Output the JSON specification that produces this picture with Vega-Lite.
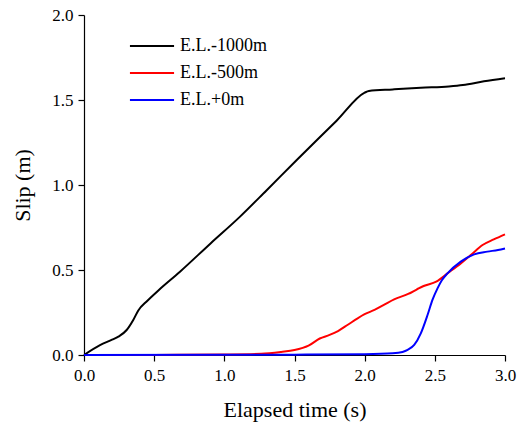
{
  "$schema": "https://vega.github.io/schema/vega-lite/v6.json",
  "width": 421,
  "height": 340,
  "autosize": {"type": "none"},
  "padding": {"left": 84, "top": 15, "right": 14, "bottom": 71},
  "background": "white",
  "config": {
    "view": {"stroke": null},
    "font": "Times New Roman",
    "axis": {
      "domainColor": "black",
      "domainWidth": 1.2,
      "labelColor": "black",
      "titleColor": "black",
      "labelFont": "Times New Roman",
      "titleFont": "Times New Roman",
      "labelFontSize": 17,
      "titleFontSize": 22,
      "titleFontWeight": "normal",
      "grid": false,
      "ticks": true,
      "tickSize": 6,
      "tickWidth": 1.2,
      "tickColor": "black"
    }
  },
  "data": {
    "values": [
      {"t": 0, "slip": 0, "s": "E.L.-1000m"},
      {"t": 0.114, "slip": 0.058, "s": "E.L.-1000m"},
      {"t": 0.2, "slip": 0.09, "s": "E.L.-1000m"},
      {"t": 0.245, "slip": 0.108, "s": "E.L.-1000m"},
      {"t": 0.304, "slip": 0.147, "s": "E.L.-1000m"},
      {"t": 0.351, "slip": 0.206, "s": "E.L.-1000m"},
      {"t": 0.387, "slip": 0.262, "s": "E.L.-1000m"},
      {"t": 0.45, "slip": 0.318, "s": "E.L.-1000m"},
      {"t": 0.53, "slip": 0.38, "s": "E.L.-1000m"},
      {"t": 0.684, "slip": 0.49, "s": "E.L.-1000m"},
      {"t": 0.9, "slip": 0.655, "s": "E.L.-1000m"},
      {"t": 1.112, "slip": 0.814, "s": "E.L.-1000m"},
      {"t": 1.3, "slip": 0.968, "s": "E.L.-1000m"},
      {"t": 1.516, "slip": 1.147, "s": "E.L.-1000m"},
      {"t": 1.8, "slip": 1.378, "s": "E.L.-1000m"},
      {"t": 2.0, "slip": 1.543, "s": "E.L.-1000m"},
      {"t": 2.03, "slip": 1.553, "s": "E.L.-1000m"},
      {"t": 2.2, "slip": 1.562, "s": "E.L.-1000m"},
      {"t": 2.4, "slip": 1.572, "s": "E.L.-1000m"},
      {"t": 2.6, "slip": 1.58, "s": "E.L.-1000m"},
      {"t": 2.7, "slip": 1.588, "s": "E.L.-1000m"},
      {"t": 2.85, "slip": 1.61, "s": "E.L.-1000m"},
      {"t": 3.0, "slip": 1.628, "s": "E.L.-1000m"},
      {"t": 0, "slip": 0, "s": "E.L.-500m"},
      {"t": 0.5, "slip": 0.0005, "s": "E.L.-500m"},
      {"t": 1.0, "slip": 0.003, "s": "E.L.-500m"},
      {"t": 1.263, "slip": 0.007, "s": "E.L.-500m"},
      {"t": 1.405, "slip": 0.018, "s": "E.L.-500m"},
      {"t": 1.5, "slip": 0.029, "s": "E.L.-500m"},
      {"t": 1.6, "slip": 0.055, "s": "E.L.-500m"},
      {"t": 1.68, "slip": 0.097, "s": "E.L.-500m"},
      {"t": 1.75, "slip": 0.118, "s": "E.L.-500m"},
      {"t": 1.81, "slip": 0.141, "s": "E.L.-500m"},
      {"t": 1.88, "slip": 0.178, "s": "E.L.-500m"},
      {"t": 1.95, "slip": 0.216, "s": "E.L.-500m"},
      {"t": 2.0, "slip": 0.24, "s": "E.L.-500m"},
      {"t": 2.07, "slip": 0.265, "s": "E.L.-500m"},
      {"t": 2.14, "slip": 0.296, "s": "E.L.-500m"},
      {"t": 2.21, "slip": 0.327, "s": "E.L.-500m"},
      {"t": 2.31, "slip": 0.359, "s": "E.L.-500m"},
      {"t": 2.37, "slip": 0.385, "s": "E.L.-500m"},
      {"t": 2.42, "slip": 0.406, "s": "E.L.-500m"},
      {"t": 2.51, "slip": 0.431, "s": "E.L.-500m"},
      {"t": 2.59, "slip": 0.48, "s": "E.L.-500m"},
      {"t": 2.685, "slip": 0.539, "s": "E.L.-500m"},
      {"t": 2.756, "slip": 0.588, "s": "E.L.-500m"},
      {"t": 2.84, "slip": 0.647, "s": "E.L.-500m"},
      {"t": 2.92, "slip": 0.68, "s": "E.L.-500m"},
      {"t": 3.0, "slip": 0.71, "s": "E.L.-500m"},
      {"t": 0, "slip": 0, "s": "E.L.+0m"},
      {"t": 1.0, "slip": 0.001, "s": "E.L.+0m"},
      {"t": 1.5, "slip": 0.002, "s": "E.L.+0m"},
      {"t": 2.0, "slip": 0.005, "s": "E.L.+0m"},
      {"t": 2.2, "slip": 0.01, "s": "E.L.+0m"},
      {"t": 2.27, "slip": 0.018, "s": "E.L.+0m"},
      {"t": 2.306, "slip": 0.03, "s": "E.L.+0m"},
      {"t": 2.353, "slip": 0.059, "s": "E.L.+0m"},
      {"t": 2.4, "slip": 0.127, "s": "E.L.+0m"},
      {"t": 2.448, "slip": 0.235, "s": "E.L.+0m"},
      {"t": 2.483, "slip": 0.324, "s": "E.L.+0m"},
      {"t": 2.519, "slip": 0.392, "s": "E.L.+0m"},
      {"t": 2.55, "slip": 0.44, "s": "E.L.+0m"},
      {"t": 2.59, "slip": 0.48, "s": "E.L.+0m"},
      {"t": 2.685, "slip": 0.549, "s": "E.L.+0m"},
      {"t": 2.78, "slip": 0.592, "s": "E.L.+0m"},
      {"t": 2.874, "slip": 0.608, "s": "E.L.+0m"},
      {"t": 2.95, "slip": 0.618, "s": "E.L.+0m"},
      {"t": 3.0, "slip": 0.627, "s": "E.L.+0m"}
    ]
  },
  "mark": {"type": "line", "strokeWidth": 2, "interpolate": "monotone"},
  "encoding": {
    "x": {
      "field": "t",
      "type": "quantitative",
      "scale": {"domain": [0, 3], "nice": false, "zero": false},
      "axis": {
        "title": "Elapsed time (s)",
        "values": [0, 0.5, 1, 1.5, 2, 2.5, 3],
        "format": ".1f",
        "labelPadding": 6,
        "titlePadding": 16,
        "labelFlush": false,
        "labelOverlap": false
      }
    },
    "y": {
      "field": "slip",
      "type": "quantitative",
      "scale": {"domain": [0, 2], "nice": false},
      "axis": {
        "title": "Slip (m)",
        "values": [0, 0.5, 1, 1.5, 2],
        "format": ".1f",
        "labelPadding": 5,
        "titlePadding": 17,
        "labelFlush": false,
        "labelOverlap": false
      }
    },
    "color": {
      "field": "s",
      "type": "nominal",
      "scale": {"domain": ["E.L.-1000m", "E.L.-500m", "E.L.+0m"], "range": ["#000000", "#ff0000", "#0000ff"]},
      "legend": {
        "title": null,
        "orient": "none",
        "legendX": 50,
        "legendY": 13,
        "symbolType": "M-1.3,0L1.3,0",
        "symbolSize": 1152,
        "symbolStrokeWidth": 2,
        "labelFont": "Times New Roman",
        "labelFontSize": 18,
        "labelColor": "black",
        "labelOffset": 10,
        "rowPadding": 0
      }
    }
  }
}
